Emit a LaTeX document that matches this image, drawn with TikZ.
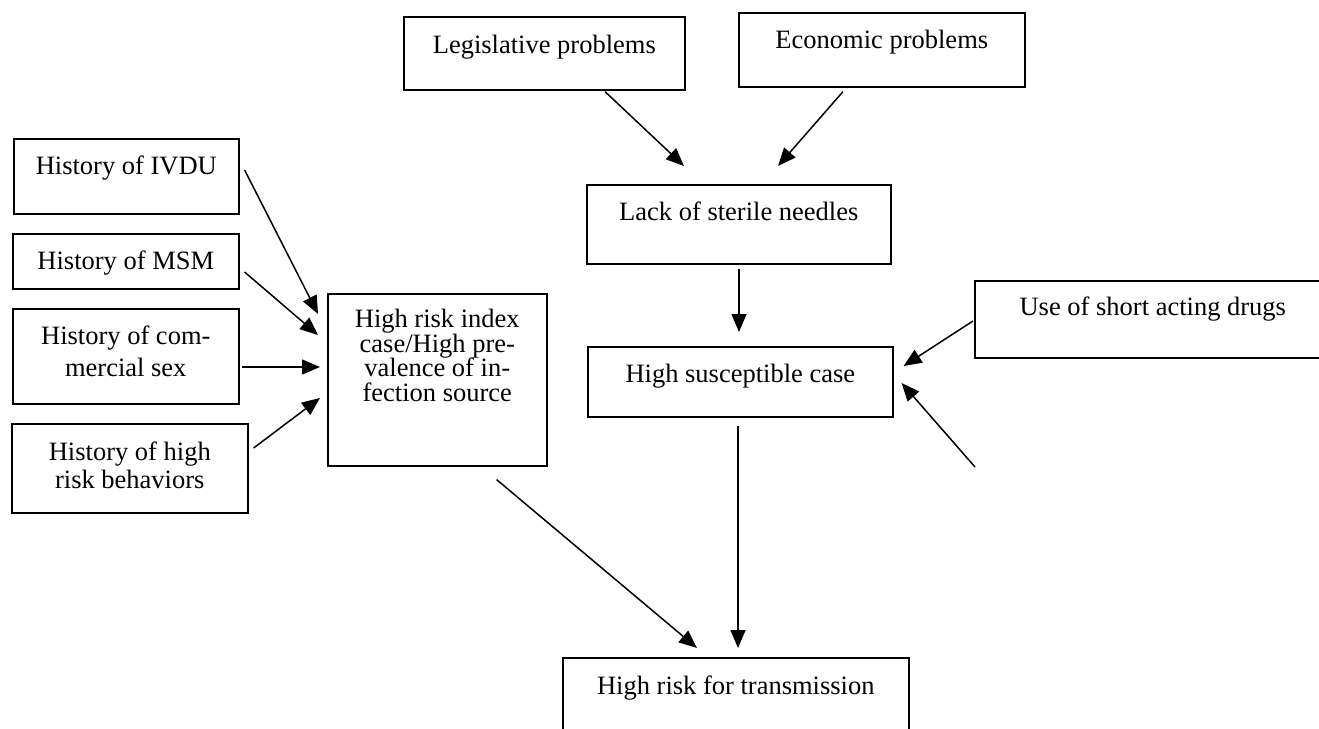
\documentclass[tikz,border=0pt]{standalone}
\usepackage{fontspec}
\setmainfont{Liberation Serif}
\usetikzlibrary{arrows.meta}
\newcommand\bxt[5]{\parbox[b][#2pt][t]{#1pt}{\centering\fontsize{26.5pt}{#3pt}\selectfont\lineskiplimit=-50pt\rule{0pt}{#4pt}#5}}
\tikzset{
  bx/.style={draw, line width=1.6pt, inner sep=0pt, anchor=north west},
  arr/.style={line width=1.5pt, -{Triangle[length=18pt,width=15pt]}}
}
\begin{document}
\begin{tikzpicture}[x=1pt,y=-1pt]
\useasboundingbox (0,0) rectangle (1319,728);
% boxes
\node[bx] (leg) at (403,16) {\bxt{281}{73}{31}{37}{Legislative problems}};
\node[bx] (econ) at (738,12) {\bxt{286}{74}{31}{36}{Economic problems}};
\node[bx] (lack) at (586,184) {\bxt{304}{79}{31}{36}{Lack of sterile needles}};
\node[bx] (susc) at (587,346) {\bxt{305}{70}{31}{36}{High susceptible case}};
\node[bx] (short) at (974,280) {\bxt{356}{77}{31}{35}{Use of short acting drugs}};
\node[bx] (trans) at (562,657) {\bxt{346}{75}{31}{37}{High risk for transmission}};
\node[bx] (ivdu) at (13,138) {\bxt{225}{75}{31}{36}{History of IVDU}};
\node[bx] (msm) at (12,233) {\bxt{226}{55}{31}{36}{History of MSM}};
\node[bx] (comm) at (12,308) {\bxt{226}{95}{32}{36}{History of com-\\mercial sex}};
\node[bx] (behav) at (11,423) {\bxt{236}{89}{28}{37}{History of high\\risk behaviors}};
\node[bx] (index) at (327,293) {\bxt{219}{172}{24.5}{34}{High risk index\\case/High pre-\\valence of in-\\fection source}};
\coordinate (free) at (975,467);
% connectors
\draw[arr] ([shift={(5,32)}]ivdu.north east) -- ([shift={(-9,21)}]index.north west);
\draw[arr] ([shift={(5,39)}]msm.north east) -- ([shift={(-9,42)}]index.north west);
\draw[arr] ([shift={(2,59)}]comm.north east) -- ([shift={(-7,74)}]index.north west);
\draw[arr] ([shift={(5,25)}]behav.north east) -- ([shift={(-7,105)}]index.north west);
\draw[arr] ([shift={(-51,13)}]index.south east) -- ([shift={(135,-9)}]trans.north west);
\draw[arr] ([shift={(202,1)}]leg.south west) -- ([shift={(98,-18)}]lack.north west);
\draw[arr] ([shift={(105,4)}]econ.south west) -- ([shift={(192,-18)}]lack.north west);
\draw[arr] ([shift={(153,4)}]lack.south west) -- ([shift={(152,-14)}]susc.north west);
\draw[arr] ([shift={(151,8)}]susc.south west) -- ([shift={(176,-9)}]trans.north west);
\draw[arr] ([shift={(-1,41)}]short.north west) -- ([shift={(10,20)}]susc.north east);
\draw[arr] (free) -- ([shift={(8,37)}]susc.north east);
\end{tikzpicture}
\end{document}
